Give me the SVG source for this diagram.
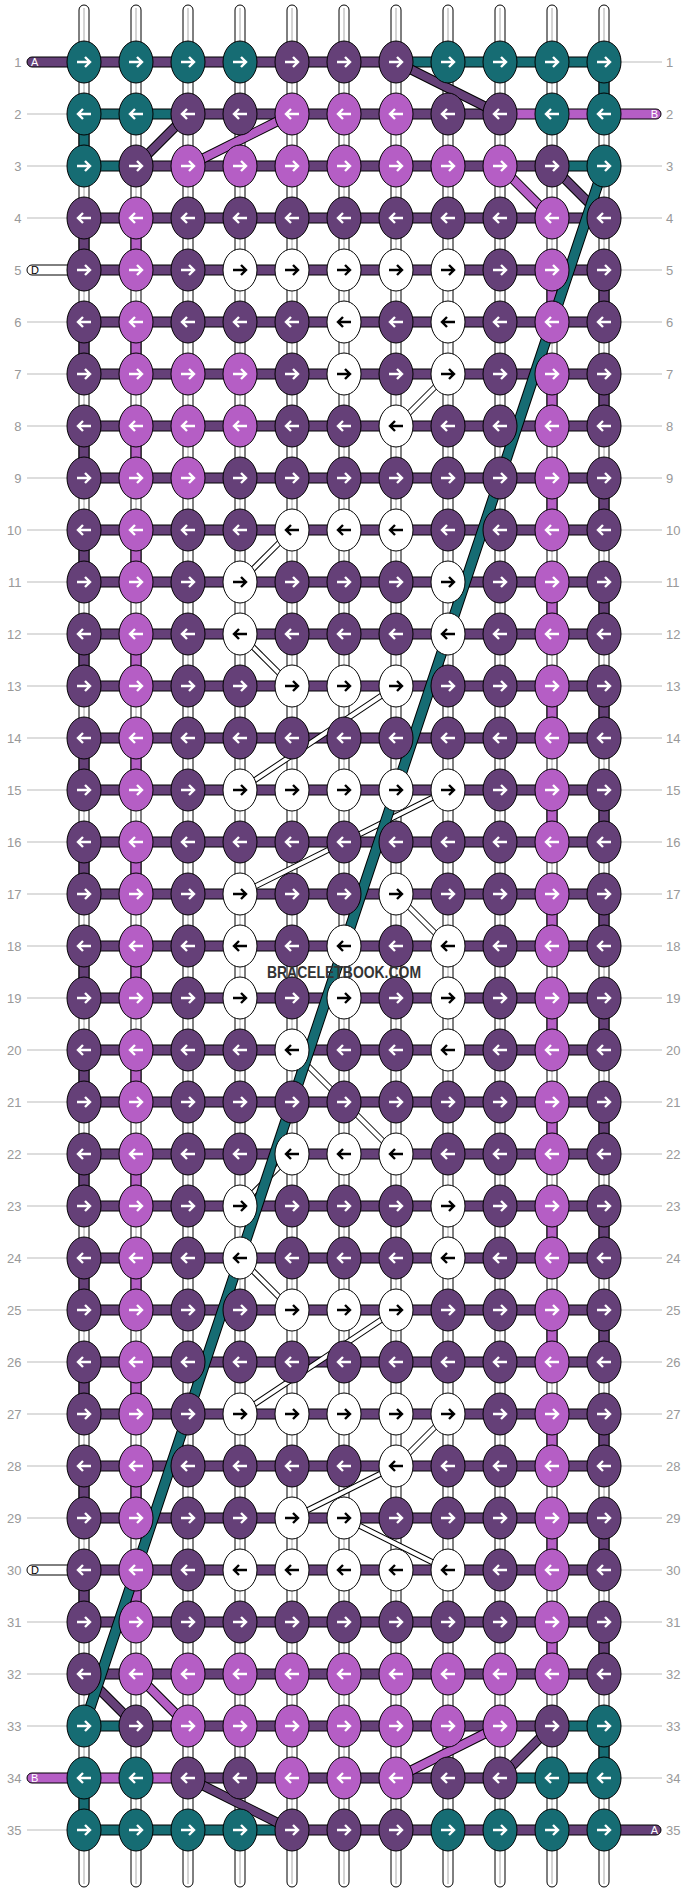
<svg xmlns="http://www.w3.org/2000/svg" width="688" height="1892" viewBox="0 0 688 1892">
<style>
.T{fill:#166c73}.P{fill:#654078}.L{fill:#b55ec5}.W{fill:#fff}
.b{stroke:#000;stroke-width:1}
.aw{fill:none;stroke:#fff;stroke-width:2.4}
.ab{fill:none;stroke:#000;stroke-width:2.4}
.gl{stroke:#bbb;stroke-width:1}
.num{font-family:"Liberation Sans",Arial,sans-serif;font-size:13px;fill:#999}
.tl{font-family:"Liberation Sans",Arial,sans-serif;font-size:11px}
.wp{fill:#fff;stroke:#000;stroke-width:1}
.wc{stroke:#aaa;stroke-width:1}
.do{stroke:#000;stroke-width:10}
.dot{stroke:#000;stroke-width:11}
.dT{stroke:#166c73;stroke-width:9}
.dP{stroke:#654078;stroke-width:8}
.dL{stroke:#b55ec5;stroke-width:8}
.so{stroke:#000;stroke-width:6}
.si{stroke:#fff;stroke-width:4}
.brand{font-family:"Liberation Sans",Arial,sans-serif;font-weight:bold;font-size:17px;fill:#333}
</style>
<defs>
<path id="aR" d="M-7,0H5M1,-5L6,0L1,5"/>
<path id="aL" d="M7,0H-5M-1,-5L-6,0L-1,5"/>
<g id="TR"><ellipse class="T b" rx="17" ry="21"/><use href="#aR" class="aw"/></g>
<g id="TL"><ellipse class="T b" rx="17" ry="21"/><use href="#aL" class="aw"/></g>
<g id="PR"><ellipse class="P b" rx="17" ry="21"/><use href="#aR" class="aw"/></g>
<g id="PL"><ellipse class="P b" rx="17" ry="21"/><use href="#aL" class="aw"/></g>
<g id="LR"><ellipse class="L b" rx="17" ry="21"/><use href="#aR" class="aw"/></g>
<g id="LL"><ellipse class="L b" rx="17" ry="21"/><use href="#aL" class="aw"/></g>
<g id="WR"><ellipse class="W b" rx="17" ry="21"/><use href="#aR" class="ab"/></g>
<g id="WL"><ellipse class="W b" rx="17" ry="21"/><use href="#aL" class="ab"/></g>
</defs>
<rect width="688" height="1892" fill="#fff"/>
<g id="row-lines" class="gl">
<line x1="604" y1="62" x2="662" y2="62"/>
<line x1="27" y1="114" x2="84" y2="114"/>
<line x1="27" y1="166" x2="84" y2="166"/><line x1="604" y1="166" x2="662" y2="166"/>
<line x1="27" y1="218" x2="84" y2="218"/><line x1="604" y1="218" x2="662" y2="218"/>
<line x1="604" y1="270" x2="662" y2="270"/>
<line x1="27" y1="322" x2="84" y2="322"/><line x1="604" y1="322" x2="662" y2="322"/>
<line x1="27" y1="374" x2="84" y2="374"/><line x1="604" y1="374" x2="662" y2="374"/>
<line x1="27" y1="426" x2="84" y2="426"/><line x1="604" y1="426" x2="662" y2="426"/>
<line x1="27" y1="478" x2="84" y2="478"/><line x1="604" y1="478" x2="662" y2="478"/>
<line x1="27" y1="530" x2="84" y2="530"/><line x1="604" y1="530" x2="662" y2="530"/>
<line x1="27" y1="582" x2="84" y2="582"/><line x1="604" y1="582" x2="662" y2="582"/>
<line x1="27" y1="634" x2="84" y2="634"/><line x1="604" y1="634" x2="662" y2="634"/>
<line x1="27" y1="686" x2="84" y2="686"/><line x1="604" y1="686" x2="662" y2="686"/>
<line x1="27" y1="738" x2="84" y2="738"/><line x1="604" y1="738" x2="662" y2="738"/>
<line x1="27" y1="790" x2="84" y2="790"/><line x1="604" y1="790" x2="662" y2="790"/>
<line x1="27" y1="842" x2="84" y2="842"/><line x1="604" y1="842" x2="662" y2="842"/>
<line x1="27" y1="894" x2="84" y2="894"/><line x1="604" y1="894" x2="662" y2="894"/>
<line x1="27" y1="946" x2="84" y2="946"/><line x1="604" y1="946" x2="662" y2="946"/>
<line x1="27" y1="998" x2="84" y2="998"/><line x1="604" y1="998" x2="662" y2="998"/>
<line x1="27" y1="1050" x2="84" y2="1050"/><line x1="604" y1="1050" x2="662" y2="1050"/>
<line x1="27" y1="1102" x2="84" y2="1102"/><line x1="604" y1="1102" x2="662" y2="1102"/>
<line x1="27" y1="1154" x2="84" y2="1154"/><line x1="604" y1="1154" x2="662" y2="1154"/>
<line x1="27" y1="1206" x2="84" y2="1206"/><line x1="604" y1="1206" x2="662" y2="1206"/>
<line x1="27" y1="1258" x2="84" y2="1258"/><line x1="604" y1="1258" x2="662" y2="1258"/>
<line x1="27" y1="1310" x2="84" y2="1310"/><line x1="604" y1="1310" x2="662" y2="1310"/>
<line x1="27" y1="1362" x2="84" y2="1362"/><line x1="604" y1="1362" x2="662" y2="1362"/>
<line x1="27" y1="1414" x2="84" y2="1414"/><line x1="604" y1="1414" x2="662" y2="1414"/>
<line x1="27" y1="1466" x2="84" y2="1466"/><line x1="604" y1="1466" x2="662" y2="1466"/>
<line x1="27" y1="1518" x2="84" y2="1518"/><line x1="604" y1="1518" x2="662" y2="1518"/>
<line x1="604" y1="1570" x2="662" y2="1570"/>
<line x1="27" y1="1622" x2="84" y2="1622"/><line x1="604" y1="1622" x2="662" y2="1622"/>
<line x1="27" y1="1674" x2="84" y2="1674"/><line x1="604" y1="1674" x2="662" y2="1674"/>
<line x1="27" y1="1726" x2="84" y2="1726"/><line x1="604" y1="1726" x2="662" y2="1726"/>
<line x1="604" y1="1778" x2="662" y2="1778"/>
<line x1="27" y1="1830" x2="84" y2="1830"/>
</g>
<g id="warps">
<rect class="wp" x="79" y="5" width="10" height="1882" rx="5"/><line class="wc" x1="84" y1="8" x2="84" y2="1884"/>
<rect class="wp" x="131" y="5" width="10" height="1882" rx="5"/><line class="wc" x1="136" y1="8" x2="136" y2="1884"/>
<rect class="wp" x="183" y="5" width="10" height="1882" rx="5"/><line class="wc" x1="188" y1="8" x2="188" y2="1884"/>
<rect class="wp" x="235" y="5" width="10" height="1882" rx="5"/><line class="wc" x1="240" y1="8" x2="240" y2="1884"/>
<rect class="wp" x="287" y="5" width="10" height="1882" rx="5"/><line class="wc" x1="292" y1="8" x2="292" y2="1884"/>
<rect class="wp" x="339" y="5" width="10" height="1882" rx="5"/><line class="wc" x1="344" y1="8" x2="344" y2="1884"/>
<rect class="wp" x="391" y="5" width="10" height="1882" rx="5"/><line class="wc" x1="396" y1="8" x2="396" y2="1884"/>
<rect class="wp" x="443" y="5" width="10" height="1882" rx="5"/><line class="wc" x1="448" y1="8" x2="448" y2="1884"/>
<rect class="wp" x="495" y="5" width="10" height="1882" rx="5"/><line class="wc" x1="500" y1="8" x2="500" y2="1884"/>
<rect class="wp" x="547" y="5" width="10" height="1882" rx="5"/><line class="wc" x1="552" y1="8" x2="552" y2="1884"/>
<rect class="wp" x="599" y="5" width="10" height="1882" rx="5"/><line class="wc" x1="604" y1="8" x2="604" y2="1884"/>
</g>
<g id="connectors">
<g id="vertical-bars">
<rect class="T b" x="79" y="114" width="10" height="52"/>
<rect class="P b" x="79" y="218" width="10" height="52"/><rect class="P b" x="79" y="322" width="10" height="52"/><rect class="P b" x="79" y="426" width="10" height="52"/><rect class="P b" x="79" y="530" width="10" height="52"/><rect class="P b" x="79" y="634" width="10" height="52"/><rect class="P b" x="79" y="738" width="10" height="52"/><rect class="P b" x="79" y="842" width="10" height="52"/><rect class="P b" x="79" y="946" width="10" height="52"/><rect class="P b" x="79" y="1050" width="10" height="52"/><rect class="P b" x="79" y="1154" width="10" height="52"/><rect class="P b" x="79" y="1258" width="10" height="52"/><rect class="P b" x="79" y="1362" width="10" height="52"/><rect class="P b" x="79" y="1466" width="10" height="52"/><rect class="P b" x="79" y="1570" width="10" height="52"/>
<rect class="T b" x="79" y="1778" width="10" height="52"/>
<rect class="L b" x="131" y="218" width="10" height="52"/><rect class="L b" x="131" y="322" width="10" height="52"/><rect class="L b" x="131" y="426" width="10" height="52"/><rect class="L b" x="131" y="530" width="10" height="52"/><rect class="L b" x="131" y="634" width="10" height="52"/><rect class="L b" x="131" y="738" width="10" height="52"/><rect class="L b" x="131" y="842" width="10" height="52"/><rect class="L b" x="131" y="946" width="10" height="52"/><rect class="L b" x="131" y="1050" width="10" height="52"/><rect class="L b" x="131" y="1154" width="10" height="52"/><rect class="L b" x="131" y="1258" width="10" height="52"/><rect class="L b" x="131" y="1362" width="10" height="52"/><rect class="L b" x="131" y="1466" width="10" height="52"/><rect class="L b" x="131" y="1570" width="10" height="52"/>
<rect class="L b" x="547" y="270" width="10" height="52"/><rect class="L b" x="547" y="374" width="10" height="52"/><rect class="L b" x="547" y="478" width="10" height="52"/><rect class="L b" x="547" y="582" width="10" height="52"/><rect class="L b" x="547" y="686" width="10" height="52"/><rect class="L b" x="547" y="790" width="10" height="52"/><rect class="L b" x="547" y="894" width="10" height="52"/><rect class="L b" x="547" y="998" width="10" height="52"/><rect class="L b" x="547" y="1102" width="10" height="52"/><rect class="L b" x="547" y="1206" width="10" height="52"/><rect class="L b" x="547" y="1310" width="10" height="52"/><rect class="L b" x="547" y="1414" width="10" height="52"/><rect class="L b" x="547" y="1518" width="10" height="52"/><rect class="L b" x="547" y="1622" width="10" height="52"/>
<rect class="T b" x="599" y="62" width="10" height="52"/>
<rect class="P b" x="599" y="270" width="10" height="52"/><rect class="P b" x="599" y="374" width="10" height="52"/><rect class="P b" x="599" y="478" width="10" height="52"/><rect class="P b" x="599" y="582" width="10" height="52"/><rect class="P b" x="599" y="686" width="10" height="52"/><rect class="P b" x="599" y="790" width="10" height="52"/><rect class="P b" x="599" y="894" width="10" height="52"/><rect class="P b" x="599" y="998" width="10" height="52"/><rect class="P b" x="599" y="1102" width="10" height="52"/><rect class="P b" x="599" y="1206" width="10" height="52"/><rect class="P b" x="599" y="1310" width="10" height="52"/><rect class="P b" x="599" y="1414" width="10" height="52"/><rect class="P b" x="599" y="1518" width="10" height="52"/><rect class="P b" x="599" y="1622" width="10" height="52"/>
<rect class="T b" x="599" y="1726" width="10" height="52"/>
</g>
<g id="row-bars">
<rect class="P b" x="27" y="57" width="70" height="10" rx="5"/>
<rect class="P b" x="84" y="57" width="312" height="10"/><rect class="T b" x="396" y="57" width="208" height="10"/>
<rect class="L b" x="590" y="109" width="71" height="10" rx="5"/>
<rect class="T b" x="84" y="109" width="104" height="10"/><rect class="P b" x="188" y="109" width="312" height="10"/><rect class="L b" x="500" y="109" width="104" height="10"/>
<rect class="T b" x="84" y="161" width="52" height="10"/><rect class="P b" x="136" y="161" width="416" height="10"/><rect class="T b" x="552" y="161" width="52" height="10"/>
<rect class="P b" x="84" y="213" width="520" height="10"/>
<rect class="W b" x="27" y="265" width="70" height="10" rx="5"/>
<rect class="P b" x="84" y="265" width="520" height="10"/>
<rect class="P b" x="84" y="317" width="520" height="10"/>
<rect class="P b" x="84" y="369" width="520" height="10"/>
<rect class="P b" x="84" y="421" width="520" height="10"/>
<rect class="P b" x="84" y="473" width="520" height="10"/>
<rect class="P b" x="84" y="525" width="520" height="10"/>
<rect class="P b" x="84" y="577" width="520" height="10"/>
<rect class="P b" x="84" y="629" width="520" height="10"/>
<rect class="P b" x="84" y="681" width="520" height="10"/>
<rect class="P b" x="84" y="733" width="520" height="10"/>
<rect class="P b" x="84" y="785" width="520" height="10"/>
<rect class="P b" x="84" y="837" width="520" height="10"/>
<rect class="P b" x="84" y="889" width="520" height="10"/>
<rect class="P b" x="84" y="941" width="520" height="10"/>
<rect class="P b" x="84" y="993" width="520" height="10"/>
<rect class="P b" x="84" y="1045" width="520" height="10"/>
<rect class="P b" x="84" y="1097" width="520" height="10"/>
<rect class="P b" x="84" y="1149" width="520" height="10"/>
<rect class="P b" x="84" y="1201" width="520" height="10"/>
<rect class="P b" x="84" y="1253" width="520" height="10"/>
<rect class="P b" x="84" y="1305" width="520" height="10"/>
<rect class="P b" x="84" y="1357" width="520" height="10"/>
<rect class="P b" x="84" y="1409" width="520" height="10"/>
<rect class="P b" x="84" y="1461" width="520" height="10"/>
<rect class="P b" x="84" y="1513" width="520" height="10"/>
<rect class="W b" x="27" y="1565" width="70" height="10" rx="5"/>
<rect class="P b" x="84" y="1565" width="520" height="10"/>
<rect class="P b" x="84" y="1617" width="520" height="10"/>
<rect class="P b" x="84" y="1669" width="520" height="10"/>
<rect class="T b" x="84" y="1721" width="52" height="10"/><rect class="P b" x="136" y="1721" width="416" height="10"/><rect class="T b" x="552" y="1721" width="52" height="10"/>
<rect class="L b" x="27" y="1773" width="70" height="10" rx="5"/>
<rect class="L b" x="84" y="1773" width="104" height="10"/><rect class="P b" x="188" y="1773" width="312" height="10"/><rect class="T b" x="500" y="1773" width="104" height="10"/>
<rect class="P b" x="590" y="1825" width="71" height="10" rx="5"/>
<rect class="T b" x="84" y="1825" width="208" height="10"/><rect class="P b" x="292" y="1825" width="312" height="10"/>
</g>
<g id="white-strands">
<line class="so" x1="448" y1="374" x2="396" y2="426"/><line class="si" x1="448" y1="374" x2="396" y2="426"/>
<line class="so" x1="292" y1="530" x2="240" y2="582"/><line class="si" x1="292" y1="530" x2="240" y2="582"/>
<line class="so" x1="240" y1="634" x2="292" y2="686"/><line class="si" x1="240" y1="634" x2="292" y2="686"/>
<line class="so" x1="396" y1="686" x2="240" y2="790"/><line class="si" x1="396" y1="686" x2="240" y2="790"/>
<line class="so" x1="448" y1="790" x2="240" y2="894"/><line class="si" x1="448" y1="790" x2="240" y2="894"/>
<line class="so" x1="396" y1="894" x2="448" y2="946"/><line class="si" x1="396" y1="894" x2="448" y2="946"/>
<line class="so" x1="292" y1="1050" x2="396" y2="1154"/><line class="si" x1="292" y1="1050" x2="396" y2="1154"/>
<line class="so" x1="292" y1="1154" x2="240" y2="1206"/><line class="si" x1="292" y1="1154" x2="240" y2="1206"/>
<line class="so" x1="240" y1="1258" x2="292" y2="1310"/><line class="si" x1="240" y1="1258" x2="292" y2="1310"/>
<line class="so" x1="396" y1="1310" x2="240" y2="1414"/><line class="si" x1="396" y1="1310" x2="240" y2="1414"/>
<line class="so" x1="448" y1="1414" x2="396" y2="1466"/><line class="si" x1="448" y1="1414" x2="396" y2="1466"/>
<line class="so" x1="396" y1="1466" x2="292" y2="1518"/><line class="si" x1="396" y1="1466" x2="292" y2="1518"/>
<line class="so" x1="344" y1="1518" x2="448" y2="1570"/><line class="si" x1="344" y1="1518" x2="448" y2="1570"/>
</g>
<g id="thick-diagonals">
<line class="do" x1="396" y1="62" x2="500" y2="114"/><line class="dP" x1="396" y1="62" x2="500" y2="114"/>
<line class="do" x1="292" y1="114" x2="188" y2="166"/><line class="dL" x1="292" y1="114" x2="188" y2="166"/>
<line class="do" x1="188" y1="114" x2="136" y2="166"/><line class="dP" x1="188" y1="114" x2="136" y2="166"/>
<line class="do" x1="500" y1="166" x2="552" y2="218"/><line class="dL" x1="500" y1="166" x2="552" y2="218"/>
<line class="do" x1="552" y1="166" x2="604" y2="218"/><line class="dP" x1="552" y1="166" x2="604" y2="218"/>
<line class="do" x1="136" y1="1726" x2="84" y2="1674"/><line class="dP" x1="136" y1="1726" x2="84" y2="1674"/>
<line class="do" x1="188" y1="1726" x2="136" y2="1674"/><line class="dL" x1="188" y1="1726" x2="136" y2="1674"/>
<line class="do" x1="500" y1="1778" x2="552" y2="1726"/><line class="dP" x1="500" y1="1778" x2="552" y2="1726"/>
<line class="do" x1="396" y1="1778" x2="500" y2="1726"/><line class="dL" x1="396" y1="1778" x2="500" y2="1726"/>
<line class="do" x1="292" y1="1830" x2="188" y2="1778"/><line class="dP" x1="292" y1="1830" x2="188" y2="1778"/>
<line class="dot" x1="604" y1="166" x2="84" y2="1726"/><line class="dT" x1="604" y1="166" x2="84" y2="1726"/>
</g>
</g>
<g id="knots">
<g id="k1-1"><use href="#TR" x="84" y="62"/></g><g id="k1-2"><use href="#TR" x="136" y="62"/></g><g id="k1-3"><use href="#TR" x="188" y="62"/></g><g id="k1-4"><use href="#TR" x="240" y="62"/></g><g id="k1-5"><use href="#PR" x="292" y="62"/></g><g id="k1-6"><use href="#PR" x="344" y="62"/></g><g id="k1-7"><use href="#PR" x="396" y="62"/></g><g id="k1-8"><use href="#TR" x="448" y="62"/></g><g id="k1-9"><use href="#TR" x="500" y="62"/></g><g id="k1-10"><use href="#TR" x="552" y="62"/></g><g id="k1-11"><use href="#TR" x="604" y="62"/></g>
<g id="k2-1"><use href="#TL" x="84" y="114"/></g><g id="k2-2"><use href="#TL" x="136" y="114"/></g><g id="k2-3"><use href="#PL" x="188" y="114"/></g><g id="k2-4"><use href="#PL" x="240" y="114"/></g><g id="k2-5"><use href="#LL" x="292" y="114"/></g><g id="k2-6"><use href="#LL" x="344" y="114"/></g><g id="k2-7"><use href="#LL" x="396" y="114"/></g><g id="k2-8"><use href="#PL" x="448" y="114"/></g><g id="k2-9"><use href="#PL" x="500" y="114"/></g><g id="k2-10"><use href="#TL" x="552" y="114"/></g><g id="k2-11"><use href="#TL" x="604" y="114"/></g>
<g id="k3-1"><use href="#TR" x="84" y="166"/></g><g id="k3-2"><use href="#PR" x="136" y="166"/></g><g id="k3-3"><use href="#LR" x="188" y="166"/></g><g id="k3-4"><use href="#LR" x="240" y="166"/></g><g id="k3-5"><use href="#LR" x="292" y="166"/></g><g id="k3-6"><use href="#LR" x="344" y="166"/></g><g id="k3-7"><use href="#LR" x="396" y="166"/></g><g id="k3-8"><use href="#LR" x="448" y="166"/></g><g id="k3-9"><use href="#LR" x="500" y="166"/></g><g id="k3-10"><use href="#PR" x="552" y="166"/></g><g id="k3-11"><use href="#TR" x="604" y="166"/></g>
<g id="k4-1"><use href="#PL" x="84" y="218"/></g><g id="k4-2"><use href="#LL" x="136" y="218"/></g><g id="k4-3"><use href="#PL" x="188" y="218"/></g><g id="k4-4"><use href="#PL" x="240" y="218"/></g><g id="k4-5"><use href="#PL" x="292" y="218"/></g><g id="k4-6"><use href="#PL" x="344" y="218"/></g><g id="k4-7"><use href="#PL" x="396" y="218"/></g><g id="k4-8"><use href="#PL" x="448" y="218"/></g><g id="k4-9"><use href="#PL" x="500" y="218"/></g><g id="k4-10"><use href="#LL" x="552" y="218"/></g><g id="k4-11"><use href="#PL" x="604" y="218"/></g>
<g id="k5-1"><use href="#PR" x="84" y="270"/></g><g id="k5-2"><use href="#LR" x="136" y="270"/></g><g id="k5-3"><use href="#PR" x="188" y="270"/></g><g id="k5-4"><use href="#WR" x="240" y="270"/></g><g id="k5-5"><use href="#WR" x="292" y="270"/></g><g id="k5-6"><use href="#WR" x="344" y="270"/></g><g id="k5-7"><use href="#WR" x="396" y="270"/></g><g id="k5-8"><use href="#WR" x="448" y="270"/></g><g id="k5-9"><use href="#PR" x="500" y="270"/></g><g id="k5-10"><use href="#LR" x="552" y="270"/></g><g id="k5-11"><use href="#PR" x="604" y="270"/></g>
<g id="k6-1"><use href="#PL" x="84" y="322"/></g><g id="k6-2"><use href="#LL" x="136" y="322"/></g><g id="k6-3"><use href="#PL" x="188" y="322"/></g><g id="k6-4"><use href="#PL" x="240" y="322"/></g><g id="k6-5"><use href="#PL" x="292" y="322"/></g><g id="k6-6"><use href="#WL" x="344" y="322"/></g><g id="k6-7"><use href="#PL" x="396" y="322"/></g><g id="k6-8"><use href="#WL" x="448" y="322"/></g><g id="k6-9"><use href="#PL" x="500" y="322"/></g><g id="k6-10"><use href="#LL" x="552" y="322"/></g><g id="k6-11"><use href="#PL" x="604" y="322"/></g>
<g id="k7-1"><use href="#PR" x="84" y="374"/></g><g id="k7-2"><use href="#LR" x="136" y="374"/></g><g id="k7-3"><use href="#LR" x="188" y="374"/></g><g id="k7-4"><use href="#LR" x="240" y="374"/></g><g id="k7-5"><use href="#PR" x="292" y="374"/></g><g id="k7-6"><use href="#WR" x="344" y="374"/></g><g id="k7-7"><use href="#PR" x="396" y="374"/></g><g id="k7-8"><use href="#WR" x="448" y="374"/></g><g id="k7-9"><use href="#PR" x="500" y="374"/></g><g id="k7-10"><use href="#LR" x="552" y="374"/></g><g id="k7-11"><use href="#PR" x="604" y="374"/></g>
<g id="k8-1"><use href="#PL" x="84" y="426"/></g><g id="k8-2"><use href="#LL" x="136" y="426"/></g><g id="k8-3"><use href="#LL" x="188" y="426"/></g><g id="k8-4"><use href="#LL" x="240" y="426"/></g><g id="k8-5"><use href="#PL" x="292" y="426"/></g><g id="k8-6"><use href="#PL" x="344" y="426"/></g><g id="k8-7"><use href="#WL" x="396" y="426"/></g><g id="k8-8"><use href="#PL" x="448" y="426"/></g><g id="k8-9"><use href="#PL" x="500" y="426"/></g><g id="k8-10"><use href="#LL" x="552" y="426"/></g><g id="k8-11"><use href="#PL" x="604" y="426"/></g>
<g id="k9-1"><use href="#PR" x="84" y="478"/></g><g id="k9-2"><use href="#LR" x="136" y="478"/></g><g id="k9-3"><use href="#LR" x="188" y="478"/></g><g id="k9-4"><use href="#PR" x="240" y="478"/></g><g id="k9-5"><use href="#PR" x="292" y="478"/></g><g id="k9-6"><use href="#PR" x="344" y="478"/></g><g id="k9-7"><use href="#PR" x="396" y="478"/></g><g id="k9-8"><use href="#PR" x="448" y="478"/></g><g id="k9-9"><use href="#PR" x="500" y="478"/></g><g id="k9-10"><use href="#LR" x="552" y="478"/></g><g id="k9-11"><use href="#PR" x="604" y="478"/></g>
<g id="k10-1"><use href="#PL" x="84" y="530"/></g><g id="k10-2"><use href="#LL" x="136" y="530"/></g><g id="k10-3"><use href="#PL" x="188" y="530"/></g><g id="k10-4"><use href="#PL" x="240" y="530"/></g><g id="k10-5"><use href="#WL" x="292" y="530"/></g><g id="k10-6"><use href="#WL" x="344" y="530"/></g><g id="k10-7"><use href="#WL" x="396" y="530"/></g><g id="k10-8"><use href="#PL" x="448" y="530"/></g><g id="k10-9"><use href="#PL" x="500" y="530"/></g><g id="k10-10"><use href="#LL" x="552" y="530"/></g><g id="k10-11"><use href="#PL" x="604" y="530"/></g>
<g id="k11-1"><use href="#PR" x="84" y="582"/></g><g id="k11-2"><use href="#LR" x="136" y="582"/></g><g id="k11-3"><use href="#PR" x="188" y="582"/></g><g id="k11-4"><use href="#WR" x="240" y="582"/></g><g id="k11-5"><use href="#PR" x="292" y="582"/></g><g id="k11-6"><use href="#PR" x="344" y="582"/></g><g id="k11-7"><use href="#PR" x="396" y="582"/></g><g id="k11-8"><use href="#WR" x="448" y="582"/></g><g id="k11-9"><use href="#PR" x="500" y="582"/></g><g id="k11-10"><use href="#LR" x="552" y="582"/></g><g id="k11-11"><use href="#PR" x="604" y="582"/></g>
<g id="k12-1"><use href="#PL" x="84" y="634"/></g><g id="k12-2"><use href="#LL" x="136" y="634"/></g><g id="k12-3"><use href="#PL" x="188" y="634"/></g><g id="k12-4"><use href="#WL" x="240" y="634"/></g><g id="k12-5"><use href="#PL" x="292" y="634"/></g><g id="k12-6"><use href="#PL" x="344" y="634"/></g><g id="k12-7"><use href="#PL" x="396" y="634"/></g><g id="k12-8"><use href="#WL" x="448" y="634"/></g><g id="k12-9"><use href="#PL" x="500" y="634"/></g><g id="k12-10"><use href="#LL" x="552" y="634"/></g><g id="k12-11"><use href="#PL" x="604" y="634"/></g>
<g id="k13-1"><use href="#PR" x="84" y="686"/></g><g id="k13-2"><use href="#LR" x="136" y="686"/></g><g id="k13-3"><use href="#PR" x="188" y="686"/></g><g id="k13-4"><use href="#PR" x="240" y="686"/></g><g id="k13-5"><use href="#WR" x="292" y="686"/></g><g id="k13-6"><use href="#WR" x="344" y="686"/></g><g id="k13-7"><use href="#WR" x="396" y="686"/></g><g id="k13-8"><use href="#PR" x="448" y="686"/></g><g id="k13-9"><use href="#PR" x="500" y="686"/></g><g id="k13-10"><use href="#LR" x="552" y="686"/></g><g id="k13-11"><use href="#PR" x="604" y="686"/></g>
<g id="k14-1"><use href="#PL" x="84" y="738"/></g><g id="k14-2"><use href="#LL" x="136" y="738"/></g><g id="k14-3"><use href="#PL" x="188" y="738"/></g><g id="k14-4"><use href="#PL" x="240" y="738"/></g><g id="k14-5"><use href="#PL" x="292" y="738"/></g><g id="k14-6"><use href="#PL" x="344" y="738"/></g><g id="k14-7"><use href="#PL" x="396" y="738"/></g><g id="k14-8"><use href="#PL" x="448" y="738"/></g><g id="k14-9"><use href="#PL" x="500" y="738"/></g><g id="k14-10"><use href="#LL" x="552" y="738"/></g><g id="k14-11"><use href="#PL" x="604" y="738"/></g>
<g id="k15-1"><use href="#PR" x="84" y="790"/></g><g id="k15-2"><use href="#LR" x="136" y="790"/></g><g id="k15-3"><use href="#PR" x="188" y="790"/></g><g id="k15-4"><use href="#WR" x="240" y="790"/></g><g id="k15-5"><use href="#WR" x="292" y="790"/></g><g id="k15-6"><use href="#WR" x="344" y="790"/></g><g id="k15-7"><use href="#WR" x="396" y="790"/></g><g id="k15-8"><use href="#WR" x="448" y="790"/></g><g id="k15-9"><use href="#PR" x="500" y="790"/></g><g id="k15-10"><use href="#LR" x="552" y="790"/></g><g id="k15-11"><use href="#PR" x="604" y="790"/></g>
<g id="k16-1"><use href="#PL" x="84" y="842"/></g><g id="k16-2"><use href="#LL" x="136" y="842"/></g><g id="k16-3"><use href="#PL" x="188" y="842"/></g><g id="k16-4"><use href="#PL" x="240" y="842"/></g><g id="k16-5"><use href="#PL" x="292" y="842"/></g><g id="k16-6"><use href="#PL" x="344" y="842"/></g><g id="k16-7"><use href="#PL" x="396" y="842"/></g><g id="k16-8"><use href="#PL" x="448" y="842"/></g><g id="k16-9"><use href="#PL" x="500" y="842"/></g><g id="k16-10"><use href="#LL" x="552" y="842"/></g><g id="k16-11"><use href="#PL" x="604" y="842"/></g>
<g id="k17-1"><use href="#PR" x="84" y="894"/></g><g id="k17-2"><use href="#LR" x="136" y="894"/></g><g id="k17-3"><use href="#PR" x="188" y="894"/></g><g id="k17-4"><use href="#WR" x="240" y="894"/></g><g id="k17-5"><use href="#PR" x="292" y="894"/></g><g id="k17-6"><use href="#PR" x="344" y="894"/></g><g id="k17-7"><use href="#WR" x="396" y="894"/></g><g id="k17-8"><use href="#PR" x="448" y="894"/></g><g id="k17-9"><use href="#PR" x="500" y="894"/></g><g id="k17-10"><use href="#LR" x="552" y="894"/></g><g id="k17-11"><use href="#PR" x="604" y="894"/></g>
<g id="k18-1"><use href="#PL" x="84" y="946"/></g><g id="k18-2"><use href="#LL" x="136" y="946"/></g><g id="k18-3"><use href="#PL" x="188" y="946"/></g><g id="k18-4"><use href="#WL" x="240" y="946"/></g><g id="k18-5"><use href="#PL" x="292" y="946"/></g><g id="k18-6"><use href="#WL" x="344" y="946"/></g><g id="k18-7"><use href="#PL" x="396" y="946"/></g><g id="k18-8"><use href="#WL" x="448" y="946"/></g><g id="k18-9"><use href="#PL" x="500" y="946"/></g><g id="k18-10"><use href="#LL" x="552" y="946"/></g><g id="k18-11"><use href="#PL" x="604" y="946"/></g>
<g id="k19-1"><use href="#PR" x="84" y="998"/></g><g id="k19-2"><use href="#LR" x="136" y="998"/></g><g id="k19-3"><use href="#PR" x="188" y="998"/></g><g id="k19-4"><use href="#WR" x="240" y="998"/></g><g id="k19-5"><use href="#PR" x="292" y="998"/></g><g id="k19-6"><use href="#WR" x="344" y="998"/></g><g id="k19-7"><use href="#PR" x="396" y="998"/></g><g id="k19-8"><use href="#WR" x="448" y="998"/></g><g id="k19-9"><use href="#PR" x="500" y="998"/></g><g id="k19-10"><use href="#LR" x="552" y="998"/></g><g id="k19-11"><use href="#PR" x="604" y="998"/></g>
<g id="k20-1"><use href="#PL" x="84" y="1050"/></g><g id="k20-2"><use href="#LL" x="136" y="1050"/></g><g id="k20-3"><use href="#PL" x="188" y="1050"/></g><g id="k20-4"><use href="#PL" x="240" y="1050"/></g><g id="k20-5"><use href="#WL" x="292" y="1050"/></g><g id="k20-6"><use href="#PL" x="344" y="1050"/></g><g id="k20-7"><use href="#PL" x="396" y="1050"/></g><g id="k20-8"><use href="#WL" x="448" y="1050"/></g><g id="k20-9"><use href="#PL" x="500" y="1050"/></g><g id="k20-10"><use href="#LL" x="552" y="1050"/></g><g id="k20-11"><use href="#PL" x="604" y="1050"/></g>
<g id="k21-1"><use href="#PR" x="84" y="1102"/></g><g id="k21-2"><use href="#LR" x="136" y="1102"/></g><g id="k21-3"><use href="#PR" x="188" y="1102"/></g><g id="k21-4"><use href="#PR" x="240" y="1102"/></g><g id="k21-5"><use href="#PR" x="292" y="1102"/></g><g id="k21-6"><use href="#PR" x="344" y="1102"/></g><g id="k21-7"><use href="#PR" x="396" y="1102"/></g><g id="k21-8"><use href="#PR" x="448" y="1102"/></g><g id="k21-9"><use href="#PR" x="500" y="1102"/></g><g id="k21-10"><use href="#LR" x="552" y="1102"/></g><g id="k21-11"><use href="#PR" x="604" y="1102"/></g>
<g id="k22-1"><use href="#PL" x="84" y="1154"/></g><g id="k22-2"><use href="#LL" x="136" y="1154"/></g><g id="k22-3"><use href="#PL" x="188" y="1154"/></g><g id="k22-4"><use href="#PL" x="240" y="1154"/></g><g id="k22-5"><use href="#WL" x="292" y="1154"/></g><g id="k22-6"><use href="#WL" x="344" y="1154"/></g><g id="k22-7"><use href="#WL" x="396" y="1154"/></g><g id="k22-8"><use href="#PL" x="448" y="1154"/></g><g id="k22-9"><use href="#PL" x="500" y="1154"/></g><g id="k22-10"><use href="#LL" x="552" y="1154"/></g><g id="k22-11"><use href="#PL" x="604" y="1154"/></g>
<g id="k23-1"><use href="#PR" x="84" y="1206"/></g><g id="k23-2"><use href="#LR" x="136" y="1206"/></g><g id="k23-3"><use href="#PR" x="188" y="1206"/></g><g id="k23-4"><use href="#WR" x="240" y="1206"/></g><g id="k23-5"><use href="#PR" x="292" y="1206"/></g><g id="k23-6"><use href="#PR" x="344" y="1206"/></g><g id="k23-7"><use href="#PR" x="396" y="1206"/></g><g id="k23-8"><use href="#WR" x="448" y="1206"/></g><g id="k23-9"><use href="#PR" x="500" y="1206"/></g><g id="k23-10"><use href="#LR" x="552" y="1206"/></g><g id="k23-11"><use href="#PR" x="604" y="1206"/></g>
<g id="k24-1"><use href="#PL" x="84" y="1258"/></g><g id="k24-2"><use href="#LL" x="136" y="1258"/></g><g id="k24-3"><use href="#PL" x="188" y="1258"/></g><g id="k24-4"><use href="#WL" x="240" y="1258"/></g><g id="k24-5"><use href="#PL" x="292" y="1258"/></g><g id="k24-6"><use href="#PL" x="344" y="1258"/></g><g id="k24-7"><use href="#PL" x="396" y="1258"/></g><g id="k24-8"><use href="#WL" x="448" y="1258"/></g><g id="k24-9"><use href="#PL" x="500" y="1258"/></g><g id="k24-10"><use href="#LL" x="552" y="1258"/></g><g id="k24-11"><use href="#PL" x="604" y="1258"/></g>
<g id="k25-1"><use href="#PR" x="84" y="1310"/></g><g id="k25-2"><use href="#LR" x="136" y="1310"/></g><g id="k25-3"><use href="#PR" x="188" y="1310"/></g><g id="k25-4"><use href="#PR" x="240" y="1310"/></g><g id="k25-5"><use href="#WR" x="292" y="1310"/></g><g id="k25-6"><use href="#WR" x="344" y="1310"/></g><g id="k25-7"><use href="#WR" x="396" y="1310"/></g><g id="k25-8"><use href="#PR" x="448" y="1310"/></g><g id="k25-9"><use href="#PR" x="500" y="1310"/></g><g id="k25-10"><use href="#LR" x="552" y="1310"/></g><g id="k25-11"><use href="#PR" x="604" y="1310"/></g>
<g id="k26-1"><use href="#PL" x="84" y="1362"/></g><g id="k26-2"><use href="#LL" x="136" y="1362"/></g><g id="k26-3"><use href="#PL" x="188" y="1362"/></g><g id="k26-4"><use href="#PL" x="240" y="1362"/></g><g id="k26-5"><use href="#PL" x="292" y="1362"/></g><g id="k26-6"><use href="#PL" x="344" y="1362"/></g><g id="k26-7"><use href="#PL" x="396" y="1362"/></g><g id="k26-8"><use href="#PL" x="448" y="1362"/></g><g id="k26-9"><use href="#PL" x="500" y="1362"/></g><g id="k26-10"><use href="#LL" x="552" y="1362"/></g><g id="k26-11"><use href="#PL" x="604" y="1362"/></g>
<g id="k27-1"><use href="#PR" x="84" y="1414"/></g><g id="k27-2"><use href="#LR" x="136" y="1414"/></g><g id="k27-3"><use href="#PR" x="188" y="1414"/></g><g id="k27-4"><use href="#WR" x="240" y="1414"/></g><g id="k27-5"><use href="#WR" x="292" y="1414"/></g><g id="k27-6"><use href="#WR" x="344" y="1414"/></g><g id="k27-7"><use href="#WR" x="396" y="1414"/></g><g id="k27-8"><use href="#WR" x="448" y="1414"/></g><g id="k27-9"><use href="#PR" x="500" y="1414"/></g><g id="k27-10"><use href="#LR" x="552" y="1414"/></g><g id="k27-11"><use href="#PR" x="604" y="1414"/></g>
<g id="k28-1"><use href="#PL" x="84" y="1466"/></g><g id="k28-2"><use href="#LL" x="136" y="1466"/></g><g id="k28-3"><use href="#PL" x="188" y="1466"/></g><g id="k28-4"><use href="#PL" x="240" y="1466"/></g><g id="k28-5"><use href="#PL" x="292" y="1466"/></g><g id="k28-6"><use href="#PL" x="344" y="1466"/></g><g id="k28-7"><use href="#WL" x="396" y="1466"/></g><g id="k28-8"><use href="#PL" x="448" y="1466"/></g><g id="k28-9"><use href="#PL" x="500" y="1466"/></g><g id="k28-10"><use href="#LL" x="552" y="1466"/></g><g id="k28-11"><use href="#PL" x="604" y="1466"/></g>
<g id="k29-1"><use href="#PR" x="84" y="1518"/></g><g id="k29-2"><use href="#LR" x="136" y="1518"/></g><g id="k29-3"><use href="#PR" x="188" y="1518"/></g><g id="k29-4"><use href="#PR" x="240" y="1518"/></g><g id="k29-5"><use href="#WR" x="292" y="1518"/></g><g id="k29-6"><use href="#WR" x="344" y="1518"/></g><g id="k29-7"><use href="#PR" x="396" y="1518"/></g><g id="k29-8"><use href="#PR" x="448" y="1518"/></g><g id="k29-9"><use href="#PR" x="500" y="1518"/></g><g id="k29-10"><use href="#LR" x="552" y="1518"/></g><g id="k29-11"><use href="#PR" x="604" y="1518"/></g>
<g id="k30-1"><use href="#PL" x="84" y="1570"/></g><g id="k30-2"><use href="#LL" x="136" y="1570"/></g><g id="k30-3"><use href="#PL" x="188" y="1570"/></g><g id="k30-4"><use href="#WL" x="240" y="1570"/></g><g id="k30-5"><use href="#WL" x="292" y="1570"/></g><g id="k30-6"><use href="#WL" x="344" y="1570"/></g><g id="k30-7"><use href="#WL" x="396" y="1570"/></g><g id="k30-8"><use href="#WL" x="448" y="1570"/></g><g id="k30-9"><use href="#PL" x="500" y="1570"/></g><g id="k30-10"><use href="#LL" x="552" y="1570"/></g><g id="k30-11"><use href="#PL" x="604" y="1570"/></g>
<g id="k31-1"><use href="#PR" x="84" y="1622"/></g><g id="k31-2"><use href="#LR" x="136" y="1622"/></g><g id="k31-3"><use href="#PR" x="188" y="1622"/></g><g id="k31-4"><use href="#PR" x="240" y="1622"/></g><g id="k31-5"><use href="#PR" x="292" y="1622"/></g><g id="k31-6"><use href="#PR" x="344" y="1622"/></g><g id="k31-7"><use href="#PR" x="396" y="1622"/></g><g id="k31-8"><use href="#PR" x="448" y="1622"/></g><g id="k31-9"><use href="#PR" x="500" y="1622"/></g><g id="k31-10"><use href="#LR" x="552" y="1622"/></g><g id="k31-11"><use href="#PR" x="604" y="1622"/></g>
<g id="k32-1"><use href="#PL" x="84" y="1674"/></g><g id="k32-2"><use href="#LL" x="136" y="1674"/></g><g id="k32-3"><use href="#LL" x="188" y="1674"/></g><g id="k32-4"><use href="#LL" x="240" y="1674"/></g><g id="k32-5"><use href="#LL" x="292" y="1674"/></g><g id="k32-6"><use href="#LL" x="344" y="1674"/></g><g id="k32-7"><use href="#LL" x="396" y="1674"/></g><g id="k32-8"><use href="#LL" x="448" y="1674"/></g><g id="k32-9"><use href="#LL" x="500" y="1674"/></g><g id="k32-10"><use href="#LL" x="552" y="1674"/></g><g id="k32-11"><use href="#PL" x="604" y="1674"/></g>
<g id="k33-1"><use href="#TR" x="84" y="1726"/></g><g id="k33-2"><use href="#PR" x="136" y="1726"/></g><g id="k33-3"><use href="#LR" x="188" y="1726"/></g><g id="k33-4"><use href="#LR" x="240" y="1726"/></g><g id="k33-5"><use href="#LR" x="292" y="1726"/></g><g id="k33-6"><use href="#LR" x="344" y="1726"/></g><g id="k33-7"><use href="#LR" x="396" y="1726"/></g><g id="k33-8"><use href="#LR" x="448" y="1726"/></g><g id="k33-9"><use href="#LR" x="500" y="1726"/></g><g id="k33-10"><use href="#PR" x="552" y="1726"/></g><g id="k33-11"><use href="#TR" x="604" y="1726"/></g>
<g id="k34-1"><use href="#TL" x="84" y="1778"/></g><g id="k34-2"><use href="#TL" x="136" y="1778"/></g><g id="k34-3"><use href="#PL" x="188" y="1778"/></g><g id="k34-4"><use href="#PL" x="240" y="1778"/></g><g id="k34-5"><use href="#LL" x="292" y="1778"/></g><g id="k34-6"><use href="#LL" x="344" y="1778"/></g><g id="k34-7"><use href="#LL" x="396" y="1778"/></g><g id="k34-8"><use href="#PL" x="448" y="1778"/></g><g id="k34-9"><use href="#PL" x="500" y="1778"/></g><g id="k34-10"><use href="#TL" x="552" y="1778"/></g><g id="k34-11"><use href="#TL" x="604" y="1778"/></g>
<g id="k35-1"><use href="#TR" x="84" y="1830"/></g><g id="k35-2"><use href="#TR" x="136" y="1830"/></g><g id="k35-3"><use href="#TR" x="188" y="1830"/></g><g id="k35-4"><use href="#TR" x="240" y="1830"/></g><g id="k35-5"><use href="#PR" x="292" y="1830"/></g><g id="k35-6"><use href="#PR" x="344" y="1830"/></g><g id="k35-7"><use href="#PR" x="396" y="1830"/></g><g id="k35-8"><use href="#TR" x="448" y="1830"/></g><g id="k35-9"><use href="#TR" x="500" y="1830"/></g><g id="k35-10"><use href="#TR" x="552" y="1830"/></g><g id="k35-11"><use href="#TR" x="604" y="1830"/></g>
</g>
<g id="tail-labels" class="tl">
<text x="31" y="66" fill="#fff">A</text>
<text x="658" y="118" fill="#fff" text-anchor="end">B</text>
<text x="31" y="274" fill="#000">D</text>
<text x="31" y="1574" fill="#000">D</text>
<text x="31" y="1782" fill="#fff">B</text>
<text x="658" y="1834" fill="#fff" text-anchor="end">A</text>
</g>
<g id="row-numbers" class="num">
<g text-anchor="end">
<text x="21.5" y="66.5">1</text><text x="21.5" y="118.5">2</text><text x="21.5" y="170.5">3</text><text x="21.5" y="222.5">4</text><text x="21.5" y="274.5">5</text><text x="21.5" y="326.5">6</text><text x="21.5" y="378.5">7</text><text x="21.5" y="430.5">8</text><text x="21.5" y="482.5">9</text><text x="21.5" y="534.5">10</text><text x="21.5" y="586.5">11</text><text x="21.5" y="638.5">12</text><text x="21.5" y="690.5">13</text><text x="21.5" y="742.5">14</text><text x="21.5" y="794.5">15</text><text x="21.5" y="846.5">16</text><text x="21.5" y="898.5">17</text><text x="21.5" y="950.5">18</text><text x="21.5" y="1002.5">19</text><text x="21.5" y="1054.5">20</text><text x="21.5" y="1106.5">21</text><text x="21.5" y="1158.5">22</text><text x="21.5" y="1210.5">23</text><text x="21.5" y="1262.5">24</text><text x="21.5" y="1314.5">25</text><text x="21.5" y="1366.5">26</text><text x="21.5" y="1418.5">27</text><text x="21.5" y="1470.5">28</text><text x="21.5" y="1522.5">29</text><text x="21.5" y="1574.5">30</text><text x="21.5" y="1626.5">31</text><text x="21.5" y="1678.5">32</text><text x="21.5" y="1730.5">33</text><text x="21.5" y="1782.5">34</text><text x="21.5" y="1834.5">35</text>
</g>
<g>
<text x="666" y="66.5">1</text><text x="666" y="118.5">2</text><text x="666" y="170.5">3</text><text x="666" y="222.5">4</text><text x="666" y="274.5">5</text><text x="666" y="326.5">6</text><text x="666" y="378.5">7</text><text x="666" y="430.5">8</text><text x="666" y="482.5">9</text><text x="666" y="534.5">10</text><text x="666" y="586.5">11</text><text x="666" y="638.5">12</text><text x="666" y="690.5">13</text><text x="666" y="742.5">14</text><text x="666" y="794.5">15</text><text x="666" y="846.5">16</text><text x="666" y="898.5">17</text><text x="666" y="950.5">18</text><text x="666" y="1002.5">19</text><text x="666" y="1054.5">20</text><text x="666" y="1106.5">21</text><text x="666" y="1158.5">22</text><text x="666" y="1210.5">23</text><text x="666" y="1262.5">24</text><text x="666" y="1314.5">25</text><text x="666" y="1366.5">26</text><text x="666" y="1418.5">27</text><text x="666" y="1470.5">28</text><text x="666" y="1522.5">29</text><text x="666" y="1574.5">30</text><text x="666" y="1626.5">31</text><text x="666" y="1678.5">32</text><text x="666" y="1730.5">33</text><text x="666" y="1782.5">34</text><text x="666" y="1834.5">35</text>
</g>
</g>
<text class="brand" x="344" y="978" text-anchor="middle" textLength="154" lengthAdjust="spacingAndGlyphs">BRACELETBOOK.COM</text>
</svg>
